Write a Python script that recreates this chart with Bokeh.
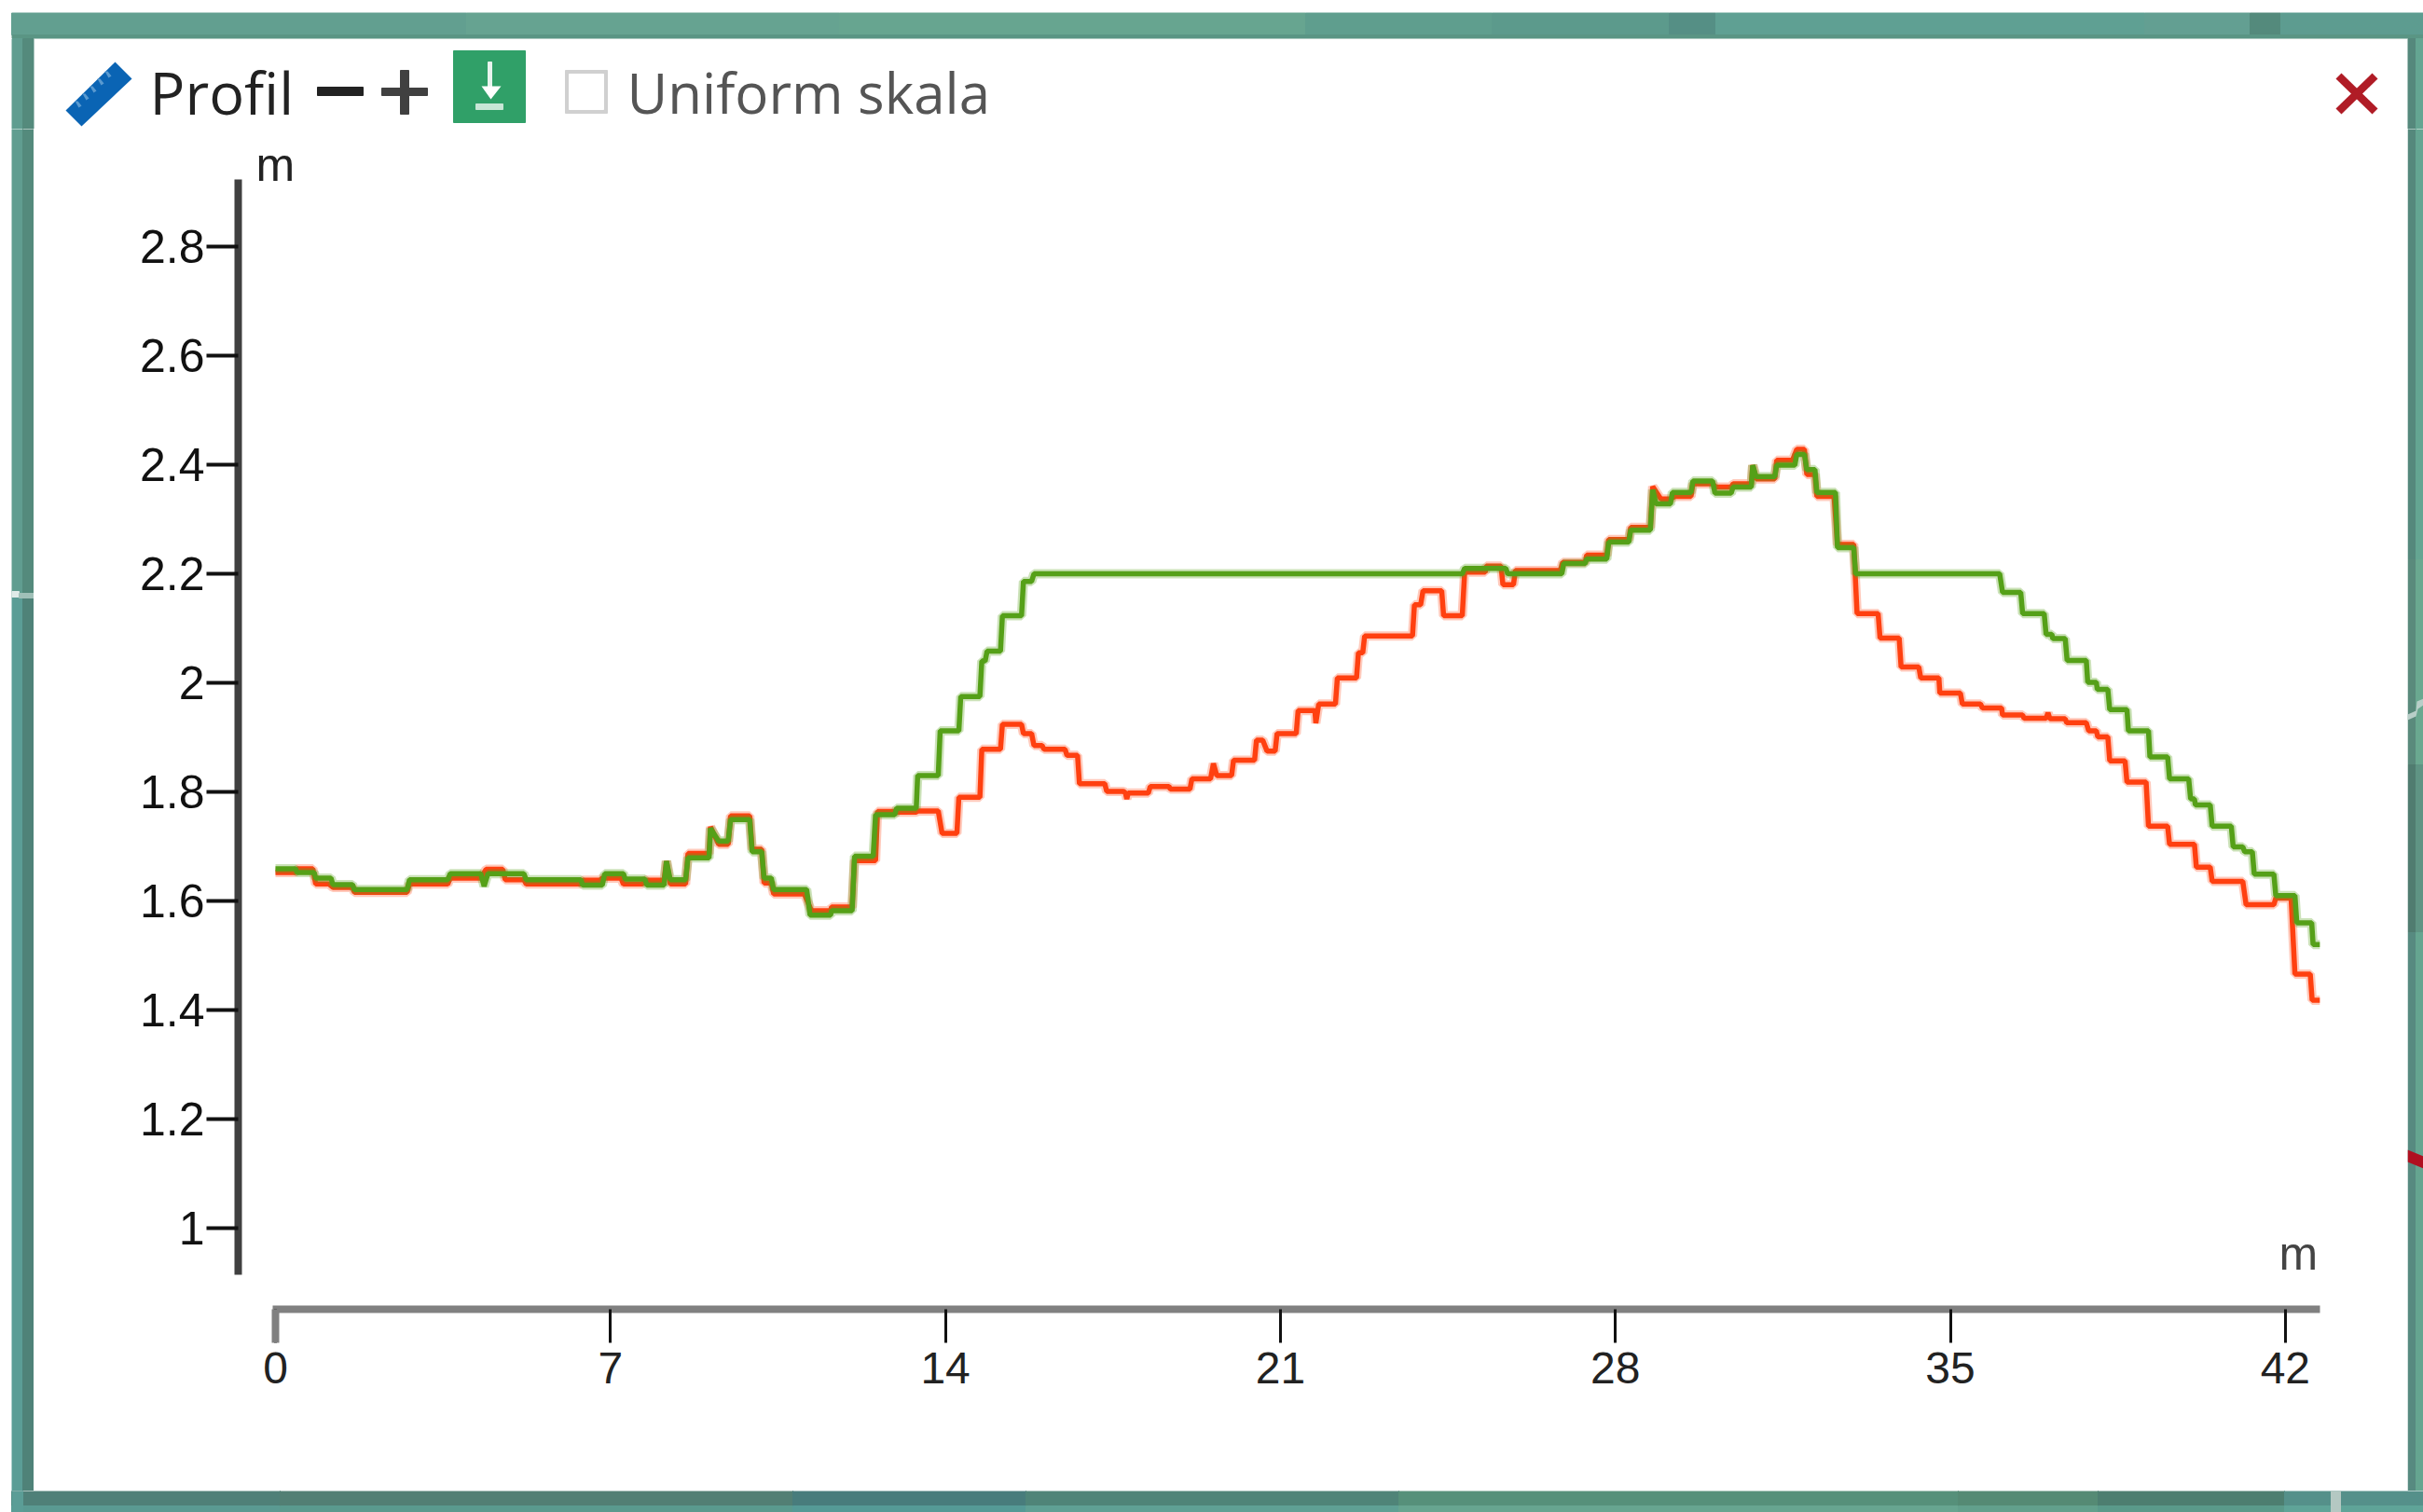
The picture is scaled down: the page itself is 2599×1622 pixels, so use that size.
from bokeh.plotting import figure
from bokeh.embed import file_html
from bokeh.resources import INLINE
from bokeh.models import Range1d, FixedTicker, LinearAxis
from bokeh.layouts import column, row
from bokeh.core.properties import value

TITLE = "Profil"
CHECK_LABEL = "Uniform skala"
UNIT = "m"
X_TICKS = [0, 7, 14, 21, 28, 35, 42]
Y_TICKS = [1, 1.2, 1.4, 1.6, 1.8, 2, 2.2, 2.4, 2.6, 2.8]
Y_LABELS = ["1", "1.2", "1.4", "1.6", "1.8", "2", "2.2", "2.4", "2.6", "2.8"]

green_x = [0, .42, .45, .81, .84, 1.16, 1.2, 1.61, 1.65, 2.75, 2.8, 3.6, 3.65, 4.29, 4.36, 4.44, 5.19, 5.24, 6.38,
           6.42, 6.83, 6.88, 7.27, 7.31, 7.72, 7.76, 8.12, 8.17, 8.25, 8.57, 8.62, 9.06, 9.09, 9.26, 9.46, 9.51, 9.91,
           9.96, 10.16, 10.21, 10.36, 10.41, 11.10, 11.17, 11.60, 11.62, 12.05, 12.1, 12.49, 12.54, 12.94, 12.98, 13.39,
           13.42, 13.85, 13.89, 14.28, 14.32, 14.72, 14.76, 14.83, 14.87, 15.15, 15.19, 15.59, 15.63, 15.80, 15.85, 24.8,
           24.85, 25.71, 25.75, 26.88, 26.92, 27.37, 27.4, 27.82, 27.86, 28.28, 28.32, 28.73, 28.78, 28.85, 29.15, 29.19,
           29.58, 29.62, 30.03, 30.08, 30.42, 30.46, 30.84, 30.87, 30.94, 31.33, 31.37, 31.75, 31.79, 31.95, 32.0, 32.17,
           32.21, 32.6, 32.64, 32.98, 33.02, 36.03, 36.09, 36.47, 36.51, 36.96, 37.0, 37.12, 37.14, 37.40, 37.44, 37.84,
           37.87, 38.05, 38.07, 38.29, 38.33, 38.69, 38.72, 39.14, 39.17, 39.54, 39.58, 39.98, 40.02, 40.1, 40.12, 40.43,
           40.47, 40.87, 40.91, 41.11, 41.15, 41.31, 41.35, 41.76, 41.80, 42.20, 42.24, 42.55, 42.58, 42.72]
green_y = [1.659, 1.659, 1.652, 1.652, 1.642, 1.642, 1.630, 1.630, 1.621, 1.621, 1.639, 1.639, 1.650, 1.650, 1.627, 1.650, 1.650, 1.639, 1.639,
           1.629, 1.629, 1.650, 1.650, 1.640, 1.640, 1.629, 1.629, 1.673, 1.639, 1.639, 1.679, 1.679, 1.733, 1.710, 1.710, 1.749, 1.749,
           1.690, 1.690, 1.642, 1.642, 1.621, 1.621, 1.574, 1.574, 1.582, 1.582, 1.682, 1.682, 1.758, 1.758, 1.770, 1.770,
           1.830, 1.830, 1.912, 1.912, 1.975, 1.975, 2.040, 2.040, 2.058, 2.058, 2.123, 2.123, 2.186, 2.186, 2.200, 2.200,
           2.210, 2.210, 2.200, 2.200, 2.219, 2.219, 2.227, 2.227, 2.258, 2.258, 2.280, 2.280, 2.354, 2.328, 2.328, 2.349,
           2.349, 2.370, 2.370, 2.348, 2.348, 2.359, 2.359, 2.399, 2.378, 2.378, 2.399, 2.399, 2.419, 2.419, 2.391, 2.391,
           2.349, 2.349, 2.248, 2.248, 2.200, 2.200, 2.166, 2.166, 2.127, 2.127, 2.089, 2.089, 2.081, 2.081, 2.041, 2.041,
           2.001, 2.001, 1.988, 1.988, 1.951, 1.951, 1.912, 1.912, 1.864, 1.864, 1.824, 1.824, 1.787, 1.787, 1.776, 1.776,
           1.737, 1.737, 1.699, 1.699, 1.690, 1.690, 1.649, 1.649, 1.610, 1.610, 1.560, 1.560, 1.520, 1.520]

red_x = [0, .42, .45, .78, .84, 1.12, 1.2, 1.61, 1.65, 2.75, 2.8, 3.6, 3.65, 4.29, 4.4, 4.75, 4.8, 5.19, 5.24, 6.38,
         6.42, 6.78, 6.83, 7.22, 7.27, 7.67, 7.72, 8.12, 8.17, 8.25, 8.57, 8.62, 9.06, 9.09, 9.26, 9.46, 9.51, 9.91,
         9.96, 10.16, 10.21, 10.36, 10.41, 11.05, 11.2, 11.6, 11.62, 12.05, 12.1, 12.54, 12.58, 12.94, 12.98, 13.39,
         13.42, 13.85, 13.93, 14.24, 14.28, 14.72, 14.76, 15.15, 15.19, 15.59, 15.63, 15.80, 15.85, 16.02, 16.06, 16.50,
         16.54, 16.76, 16.80, 17.33, 17.37, 17.72, 17.76, 17.79, 17.82, 18.24, 18.28, 18.67, 18.70, 19.11, 19.15, 19.54,
         19.60, 19.67, 19.98, 20.02, 20.46, 20.50, 20.63, 20.72, 20.89, 20.93, 21.33, 21.37, 21.72, 21.74, 21.80, 22.15,
         22.19, 22.59, 22.63, 22.72, 22.76, 23.76, 23.80, 23.93, 23.98, 24.37, 24.41, 24.80, 24.85, 25.28, 25.30, 25.61,
         25.65, 25.87, 25.91, 26.85, 26.9, 27.37, 27.4, 27.82, 27.86, 28.28, 28.32, 28.73, 28.78, 28.95, 29.15, 29.25,
         29.58, 29.62, 30.03, 30.1, 30.42, 30.46, 30.84, 30.87, 30.94, 31.33, 31.37, 31.7, 31.79, 31.95, 32.0, 32.17,
         32.21, 32.57, 32.64, 32.98, 33.05, 33.49, 33.53, 33.93, 33.97, 34.34, 34.38, 34.76, 34.78, 35.21, 35.25, 35.63,
         35.67, 36.07, 36.09, 36.51, 36.54, 37.0, 37.04, 37.08, 37.40, 37.43, 37.84, 37.89, 38.05, 38.08, 38.29, 38.33,
         38.65, 38.69, 39.09, 39.14, 39.54, 39.58, 40.10, 40.14, 40.43, 40.47, 41.11, 41.18, 41.76, 41.80, 42.12, 42.20,
         42.52, 42.56, 42.72]
red_y = [1.652, 1.652, 1.659, 1.659, 1.631, 1.631, 1.625, 1.625, 1.616, 1.616, 1.631, 1.631, 1.642, 1.642, 1.658, 1.658, 1.639, 1.639, 1.631, 1.631,
         1.638, 1.638, 1.642, 1.642, 1.631, 1.631, 1.638, 1.638, 1.673, 1.631, 1.631, 1.687, 1.687, 1.736, 1.704, 1.704, 1.756, 1.756,
         1.695, 1.695, 1.633, 1.633, 1.613, 1.613, 1.582, 1.582, 1.589, 1.589, 1.674, 1.674, 1.764, 1.764, 1.763, 1.763,
         1.765, 1.765, 1.724, 1.724, 1.790, 1.790, 1.878, 1.878, 1.924, 1.924, 1.907, 1.907, 1.885, 1.885, 1.878, 1.878,
         1.867, 1.867, 1.815, 1.815, 1.801, 1.801, 1.798, 1.787, 1.798, 1.798, 1.810, 1.810, 1.805, 1.805, 1.824, 1.824,
         1.852, 1.830, 1.830, 1.858, 1.858, 1.895, 1.895, 1.875, 1.875, 1.907, 1.907, 1.949, 1.949, 1.926, 1.961, 1.961,
         2.009, 2.009, 2.055, 2.055, 2.086, 2.086, 2.143, 2.143, 2.169, 2.169, 2.123, 2.123, 2.203, 2.203, 2.214, 2.214,
         2.180, 2.180, 2.206, 2.206, 2.221, 2.221, 2.234, 2.234, 2.263, 2.263, 2.285, 2.285, 2.360, 2.337, 2.337, 2.342,
         2.342, 2.365, 2.365, 2.359, 2.359, 2.365, 2.365, 2.399, 2.374, 2.374, 2.408, 2.408, 2.428, 2.428, 2.382, 2.382,
         2.342, 2.342, 2.254, 2.254, 2.127, 2.127, 2.082, 2.082, 2.029, 2.029, 2.009, 2.009, 1.981, 1.981, 1.961, 1.961,
         1.954, 1.954, 1.941, 1.941, 1.935, 1.935, 1.945, 1.934, 1.934, 1.927, 1.927, 1.912, 1.912, 1.901, 1.901, 1.857,
         1.857, 1.818, 1.818, 1.737, 1.737, 1.704, 1.704, 1.662, 1.662, 1.636, 1.636, 1.593, 1.593, 1.605, 1.605, 1.466,
         1.466, 1.418, 1.418]

# page pixel -> value on the chart's scales
def dx(px):
    return (px - 295) / 51.33
def dy(py):
    return 1 + (1317 - py) / 585

HEAD_H = 138       # header strip height, page pixels
BODY_B = 1599      # bottom of the white panel
INNER_L, INNER_R = 36, 2582

def strip(x0, x1, y0, y1):
    f = figure(width=x1 - x0, height=y1 - y0, output_backend="svg", toolbar_location=None,
               x_range=Range1d(x0, x1), y_range=Range1d(y1, y0),
               x_axis_location=None, y_axis_location=None,
               min_border_left=0, min_border_right=0, min_border_top=0, min_border_bottom=0)
    f.grid.visible = False
    f.outline_line_color = None
    f.background_fill_color = "white"
    f.border_fill_color = "white"
    return f

def box(f, x0, y0, x1, y1, color):
    f.quad(left=x0, right=x1, top=y0, bottom=y1, fill_color=color, line_color=color, line_width=1)

def poly(f, pts, color):
    f.patch([a for a, b in pts], [b for a, b in pts], fill_color=color, line_color=None)

head = strip(0, 2599, 0, HEAD_H)
left = strip(0, INNER_L, HEAD_H, BODY_B)
right = strip(INNER_R, 2599, HEAD_H, BODY_B)
foot = strip(0, 2599, BODY_B, 1622)

# map background seen around the panel
for x0, x1, c in [(12, 500, "#629f90"), (500, 900, "#66a391"), (900, 1400, "#67a590"), (1400, 1600, "#5f9e8e"),
                  (1600, 1790, "#5c9a8c"), (1790, 1840, "#558f85"), (1840, 2300, "#5fa093"),
                  (2300, 2413, "#639f92"), (2413, 2446, "#548a7c"), (2446, 2599, "#5d9c90")]:
    box(head, x0, 13.5, x1, 37, c)
box(head, 12.5, 37, 2599, 40.5, "#5a9584")
box(head, 12.5, 41, 24, HEAD_H + 5, "#609d90")
box(head, 24, 41, 35.5, HEAD_H + 5, "#548a7c")
box(head, INNER_R + .5, 41, 2591, HEAD_H + 5, "#55887c")
box(head, 2591, 41, 2610, HEAD_H + 5, "#64a592")

for y0, y1, c1, c2 in [(130, 640, "#609d90", "#548a7c"), (640, 1630, "#5b9d96", "#4f8278")]:
    box(left, 12.5, y0, 24, y1, c1)
    box(left, 24, y0, 35.5, y1, c2)
box(left, 12.5, 634, 20, 640, "#dfeae8")
box(left, 20, 636, 35.5, 641, "#a0c0b8")

for y0, y1, c1, c2 in [(130, 600, "#55887c", "#64a592"), (600, 820, "#5a8a7c", "#6aa890"),
                       (820, 1000, "#507c70", "#5f9484"), (1000, 1630, "#578a80", "#65a590")]:
    box(right, INNER_R + .5, y0, 2591, y1, c1)
    box(right, 2591, y0, 2610, y1, c2)
poly(right, [(2582, 766), (2591, 762), (2592, 752), (2599, 749), (2599, 756), (2593, 760), (2591, 768), (2582, 772)], "#b8cec8")
poly(right, [(2582, 1233), (2599, 1240), (2599, 1253), (2582, 1246)], "#b01020")

for x0, x1, c1, c2 in [(12, 300, "#4f8078", "#5a9a92"), (300, 850, "#527f74", "#5a9a8e"), (850, 1100, "#487c7c", "#559a96"),
                       (1100, 1500, "#4f8478", "#5fa094"), (1500, 2100, "#56907a", "#67a590"),
                       (2100, 2250, "#558a74", "#62a08c"), (2250, 2450, "#4d7e70", "#5a9a8a"), (2450, 2610, "#55908a", "#5fa498")]:
    box(foot, x0, BODY_B - 5, x1, 1615, c1)
    box(foot, x0, 1615, x1, 1630, c2)
box(foot, 12.5, BODY_B - 5, 24, 1630, "#5b9d96")
box(foot, 2500, BODY_B - 5, 2510, 1630, "#b4c8c2")

def text(f, x, y, s, size, color, font):
    f.text([x], [y], text=[s], text_font=value(font), text_font_size=size, text_color=color,
           text_baseline="middle", text_align="left")

# header widgets
poly(head, [(123, 66), (141, 84), (87, 135), (70, 118)], "#0a64b4")
for a, b in [(112, 84), (104, 92), (96, 100), (88, 108), (80, 116)]:
    poly(head, [(a, b - 8), (a + 3, b - 8), (a + 7, b - 3), (a + 4, b - 1)], "#5a9ad0")
text(head, 160, 98, TITLE, "63px", "#222222", "Open Sans")
box(head, 340, 93, 389, 102, "#222222")
box(head, 409, 94, 458, 102, "#404040")
box(head, 429, 75, 438, 122, "#404040")
box(head, 486, 54, 563, 131, "#30a068")
box(head, 523, 66, 527, 96, "#e8f4ee")
poly(head, [(516, 92), (537, 92), (526, 106)], "#ffffff")
box(head, 510, 111, 539, 117, "#c8e6d6")
box(head, 606, 75, 651, 121, "#d0d0d0")
box(head, 610, 79, 647, 117, "#ffffff")
text(head, 672, 98, CHECK_LABEL, "60px", "#555555", "Open Sans")
poly(head, [(2505, 84), (2511, 78), (2550, 116), (2544, 122)], "#b01c26")
poly(head, [(2550, 84), (2544, 78), (2505, 116), (2511, 122)], "#b01c26")

# chart
p = figure(width=INNER_R - INNER_L, height=BODY_B - HEAD_H, output_backend="svg", toolbar_location=None,
           x_range=Range1d(dx(255), dx(INNER_R)), y_range=Range1d(dy(1404), dy(HEAD_H)),
           x_axis_location=None, y_axis_location=None,
           min_border_left=255 - INNER_L, min_border_right=0, min_border_top=0, min_border_bottom=BODY_B - 1404)
p.grid.visible = False
p.outline_line_color = None
p.background_fill_color = "white"
p.border_fill_color = "white"

xaxis = LinearAxis(ticker=FixedTicker(ticks=X_TICKS, minor_ticks=[0]), bounds=(dx(292), dx(2488)))
xaxis.axis_line_color = "#808080"
xaxis.axis_line_width = 8
xaxis.major_tick_line_color = "#111111"
xaxis.major_tick_line_width = 3
xaxis.major_tick_out = 36
xaxis.major_tick_in = 0
xaxis.minor_tick_line_color = "#808080"
xaxis.minor_tick_line_width = 8
xaxis.minor_tick_out = 36
xaxis.minor_tick_in = 0
xaxis.major_label_standoff = 10
xaxis.major_label_text_font = "Liberation Sans"
xaxis.major_label_text_font_size = "48px"
xaxis.major_label_text_color = "#222222"
p.add_layout(xaxis, "below")

yaxis = LinearAxis(ticker=FixedTicker(ticks=Y_TICKS), bounds=(dy(1367), dy(192)),
                   major_label_overrides=dict(zip(Y_TICKS, Y_LABELS)))
yaxis.axis_line_color = "#404040"
yaxis.axis_line_width = 8
yaxis.major_tick_line_color = "#111111"
yaxis.major_tick_line_width = 4
yaxis.major_tick_out = 34
yaxis.major_tick_in = 0
yaxis.minor_tick_line_color = None
yaxis.major_label_standoff = 2
yaxis.major_label_text_font = "Liberation Sans"
yaxis.major_label_text_font_size = "50px"
yaxis.major_label_text_color = "#111111"
p.add_layout(yaxis, "left")

RED, GREEN = "#ff4010", "#55a018"
p.line(red_x, red_y, line_color=RED, line_width=10, line_alpha=0.28, line_join="bevel")
p.line(red_x, red_y, line_color=RED, line_width=5.5, line_join="bevel")
p.line(green_x, green_y, line_color=GREEN, line_width=10, line_alpha=0.3, line_join="bevel")
p.line(green_x, green_y, line_color=GREEN, line_width=5.5, line_join="bevel")

text(p, dx(274), dy(176), UNIT, "50px", "#222222", "Liberation Sans")
text(p, dx(2444), dy(1344), UNIT, "50px", "#444444", "Liberation Sans")

page = column(head, row(column(left, spacing=0), p, column(right, spacing=0), spacing=0), foot, spacing=0)
open("out.html", "w").write(file_html(page, INLINE))
